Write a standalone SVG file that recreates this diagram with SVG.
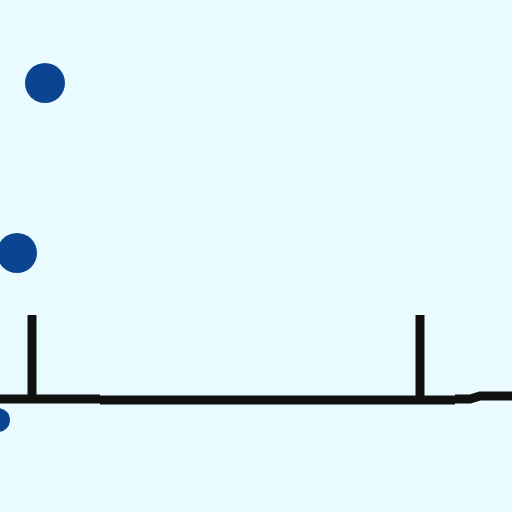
<svg xmlns="http://www.w3.org/2000/svg" width="512" height="512" viewBox="0 0 512 512">
<style>
.dot{fill:#0b4592}
.ln{stroke:#111;stroke-width:9;fill:none;stroke-linecap:butt}
</style>
<rect width="512" height="512" fill="#e9fbff"/>
<g id="dots">
<circle class="dot" cx="45" cy="83" r="20"/>
<circle class="dot" cx="17" cy="253" r="20"/>
<circle class="dot" cx="-2" cy="420" r="12"/>
</g>
<g id="connectors">
<path class="ln" d="M32 315 V400"/>
<path class="ln" d="M420 315 V400"/>
<path class="ln" d="M0 399 H100 M100 400 H455 M455 399 L470 399 L480 396 H512"/>
</g>
</svg>
